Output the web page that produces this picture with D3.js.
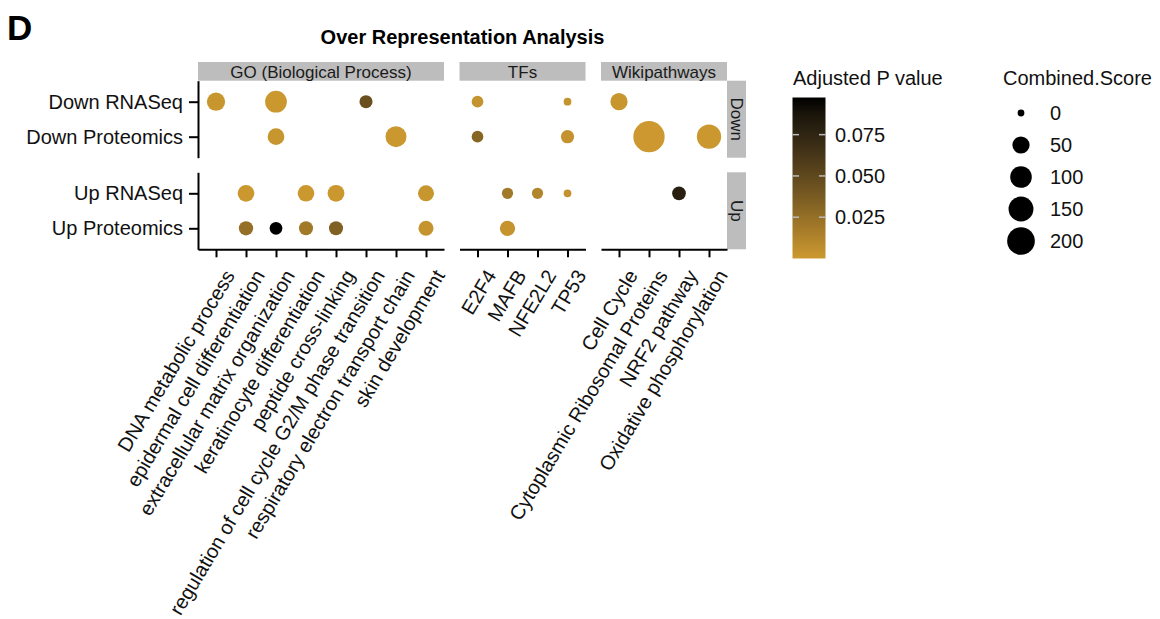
<!DOCTYPE html>
<html>
<head>
<meta charset="utf-8">
<script src="https://cdn.jsdelivr.net/npm/d3@7"></script>
<style>
  html, body { margin: 0; padding: 0; background: #ffffff; }
  svg { display: block; font-family: "Liberation Sans", Arial, Helvetica, sans-serif; }
</style>
</head>
<body>
<svg id="chart" width="1160" height="619"></svg>
<script>
// ---------------- data ----------------
const samples = ["Down RNASeq", "Down Proteomics", "Up RNASeq", "Up Proteomics"];
const directions = ["Down", "Up"];
const dbNames = ["GO (Biological Process)", "TFs", "Wikipathways"];

const goTerms = ["DNA metabolic process", "epidermal cell differentiation",
  "extracellular matrix organization", "keratinocyte differentiation",
  "peptide cross-linking", "regulation of cell cycle G2/M phase transition",
  "respiratory electron transport chain", "skin development"];
const tfTerms = ["E2F4", "MAFB", "NFE2L2", "TP53"];
const wikiTerms = ["Cell Cycle", "Cytoplasmic Ribosomal Proteins", "NRF2 pathway",
  "Oxidative phosphorylation"];

// [term, sample, Combined.Score, Adjusted P value]
const goPoints = [
  ["DNA metabolic process", "Down RNASeq", 60, 0.002],
  ["extracellular matrix organization", "Down RNASeq", 102, 0.001],
  ["regulation of cell cycle G2/M phase transition", "Down RNASeq", 18, 0.045],
  ["extracellular matrix organization", "Down Proteomics", 45, 0.002],
  ["respiratory electron transport chain", "Down Proteomics", 92, 0.001],
  ["epidermal cell differentiation", "Up RNASeq", 45, 0.001],
  ["keratinocyte differentiation", "Up RNASeq", 44, 0.001],
  ["peptide cross-linking", "Up RNASeq", 46, 0.001],
  ["skin development", "Up RNASeq", 39, 0.002],
  ["epidermal cell differentiation", "Up Proteomics", 26, 0.025],
  ["extracellular matrix organization", "Up Proteomics", 16, 0.0975],
  ["keratinocyte differentiation", "Up Proteomics", 24, 0.019],
  ["peptide cross-linking", "Up Proteomics", 24, 0.034],
  ["skin development", "Up Proteomics", 31, 0.003]
];
const tfPoints = [
  ["E2F4", "Down RNASeq", 11, 0.003],
  ["TP53", "Down RNASeq", 0.4, 0.003],
  ["E2F4", "Down Proteomics", 11, 0.031],
  ["TP53", "Down Proteomics", 19, 0.004],
  ["MAFB", "Up RNASeq", 9, 0.019],
  ["NFE2L2", "Up RNASeq", 9, 0.012],
  ["TP53", "Up RNASeq", 0.4, 0.004],
  ["MAFB", "Up Proteomics", 33, 0.003]
];
const wikiPoints = [
  ["Cell Cycle", "Down RNASeq", 50, 0.002],
  ["Cytoplasmic Ribosomal Proteins", "Down Proteomics", 275, 0.0003],
  ["Oxidative phosphorylation", "Down Proteomics", 140, 0.001],
  ["NRF2 pathway", "Up RNASeq", 22, 0.079]
];

const colorTicks = [0.025, 0.050, 0.075];
const sizeBreaks = [0, 50, 100, 150, 200];

// ---------------- layout ----------------
const svg = d3.select("#chart");
const FONT_AX = 20, FONT_STRIP = 17;
const step = 30;
const colX0 = [198, 459.5, 601];
const colTerms = [goTerms, tfTerms, wikiTerms];
const colPoints = [goPoints, tfPoints, wikiPoints];
const rowY = [[80.7, 157.7], [172.3, 249.3]];
const stripTop = 62;
const stripRightW = 19;

const pMax = 0.0975;
const color = d3.scaleLinear().domain([0, pMax]).range(["#CD992F", "#000000"])
  .interpolate(d3.interpolateLab);
const rScale = d3.scaleSqrt().domain([0, 275]).range([3.4, 15.65]);

// title & tag
svg.append("text").attr("x", 7).attr("y", 40).attr("font-size", 35)
  .attr("font-weight", "bold").attr("fill", "#000").text("D");
svg.append("text").attr("x", (198 + 727) / 2).attr("y", 44).attr("font-size", 20)
  .attr("font-weight", "bold").attr("text-anchor", "middle").attr("fill", "#000")
  .text("Over Representation Analysis");

const xScales = colTerms.map((terms, i) => d3.scalePoint().domain(terms)
  .range([colX0[i], colX0[i] + (terms.length - 1 + 1.2) * step]).padding(0.6));
const yScales = directions.map((dir, j) => d3.scalePoint()
  .domain(samples.filter(s => s.startsWith(dir)))
  .range(rowY[j]).padding(0.6));

// strips top
colTerms.forEach((terms, i) => {
  const [a, b] = xScales[i].range();
  svg.append("rect").attr("x", a).attr("y", stripTop).attr("width", b - a)
    .attr("height", rowY[0][0] - stripTop).attr("fill", "#BDBDBD");
  svg.append("text").attr("x", (a + b) / 2).attr("y", 77.5)
    .attr("text-anchor", "middle").attr("font-size", FONT_STRIP).attr("fill", "#1a1a1a")
    .text(dbNames[i]);
});
// strips right
const rightX = xScales[2].range()[1];
directions.forEach((dir, j) => {
  const [t, b] = rowY[j];
  svg.append("rect").attr("x", rightX).attr("y", t).attr("width", stripRightW)
    .attr("height", b - t).attr("fill", "#BDBDBD");
  svg.append("text").attr("transform", `translate(${rightX + stripRightW / 2},${(t + b) / 2}) rotate(90)`)
    .attr("text-anchor", "middle").attr("dy", "0.35em").attr("font-size", FONT_STRIP)
    .attr("fill", "#1a1a1a").text(dir);
});

// left axes
directions.forEach((dir, j) => {
  const g = svg.append("g").attr("transform", `translate(${colX0[0]},0)`)
    .call(d3.axisLeft(yScales[j]).tickSize(9).tickSizeOuter(0).tickPadding(6));
  g.select(".domain").attr("stroke", "#000").attr("stroke-width", 2);
  g.selectAll(".tick line").attr("stroke", "#000").attr("stroke-width", 2);
  g.selectAll(".tick text").attr("font-size", FONT_AX).attr("fill", "#111")
    .attr("font-family", '"Liberation Sans", Arial, sans-serif');
});

// bottom axes
const axisY = rowY[1][1];
colTerms.forEach((terms, i) => {
  const g = svg.append("g").attr("transform", `translate(0,${axisY})`)
    .call(d3.axisBottom(xScales[i]).tickSize(8).tickSizeOuter(0));
  g.select(".domain").attr("stroke", "#000").attr("stroke-width", 2);
  g.selectAll(".tick line").attr("stroke", "#000").attr("stroke-width", 2);
  g.selectAll(".tick text")
    .attr("font-size", FONT_AX).attr("fill", "#111")
    .attr("font-family", '"Liberation Sans", Arial, sans-serif')
    .attr("text-anchor", "end").attr("dy", null).attr("y", null)
    .attr("transform", "translate(19,26) rotate(-59)");
});

// points
colPoints.forEach((pts, i) => {
  svg.append("g").selectAll("circle").data(pts).join("circle")
    .attr("cx", d => xScales[i](d[0]))
    .attr("cy", d => yScales[d[1].startsWith("Down") ? 0 : 1](d[1]))
    .attr("r", d => rScale(d[2]))
    .attr("fill", d => color(d[3]));
});

// ---------------- legends ----------------
svg.append("text").attr("x", 793).attr("y", 85).attr("font-size", 20).attr("fill", "#111")
  .text("Adjusted P value");
const barX = 792.5, barW = 33, barTop = 97.5, barBot = 258.5;
const cy = d3.scaleLinear().domain([0, pMax]).range([barBot, barTop]);
const grad = svg.append("defs").append("linearGradient").attr("id", "pgrad")
  .attr("x1", 0).attr("y1", 1).attr("x2", 0).attr("y2", 0);
d3.range(0, 1.0001, 0.1).forEach(t => {
  grad.append("stop").attr("offset", t).attr("stop-color", color(t * pMax));
});
svg.append("rect").attr("x", barX).attr("y", barTop).attr("width", barW)
  .attr("height", barBot - barTop).attr("fill", "url(#pgrad)");
colorTicks.forEach(v => {
  const y = cy(v);
  svg.append("line").attr("x1", barX).attr("x2", barX + 6.5).attr("y1", y).attr("y2", y)
    .attr("stroke", "#bbb").attr("stroke-width", 1.5);
  svg.append("line").attr("x1", barX + barW - 6.5).attr("x2", barX + barW).attr("y1", y).attr("y2", y)
    .attr("stroke", "#bbb").attr("stroke-width", 1.5);
  svg.append("text").attr("x", 835).attr("y", y).attr("dy", "0.35em")
    .attr("font-size", 20).attr("fill", "#111").text(d3.format(".3f")(v));
});

svg.append("text").attr("x", 1003).attr("y", 85).attr("font-size", 20).attr("fill", "#111")
  .text("Combined.Score");
const sy = d3.scalePoint().domain(sizeBreaks).range([113, 241]);
sizeBreaks.forEach(v => {
  svg.append("circle").attr("cx", 1021).attr("cy", sy(v)).attr("r", rScale(v)).attr("fill", "#000");
  svg.append("text").attr("x", 1050).attr("y", sy(v)).attr("dy", "0.35em")
    .attr("font-size", 20).attr("fill", "#111").text(v);
});
</script>
</body>
</html>
